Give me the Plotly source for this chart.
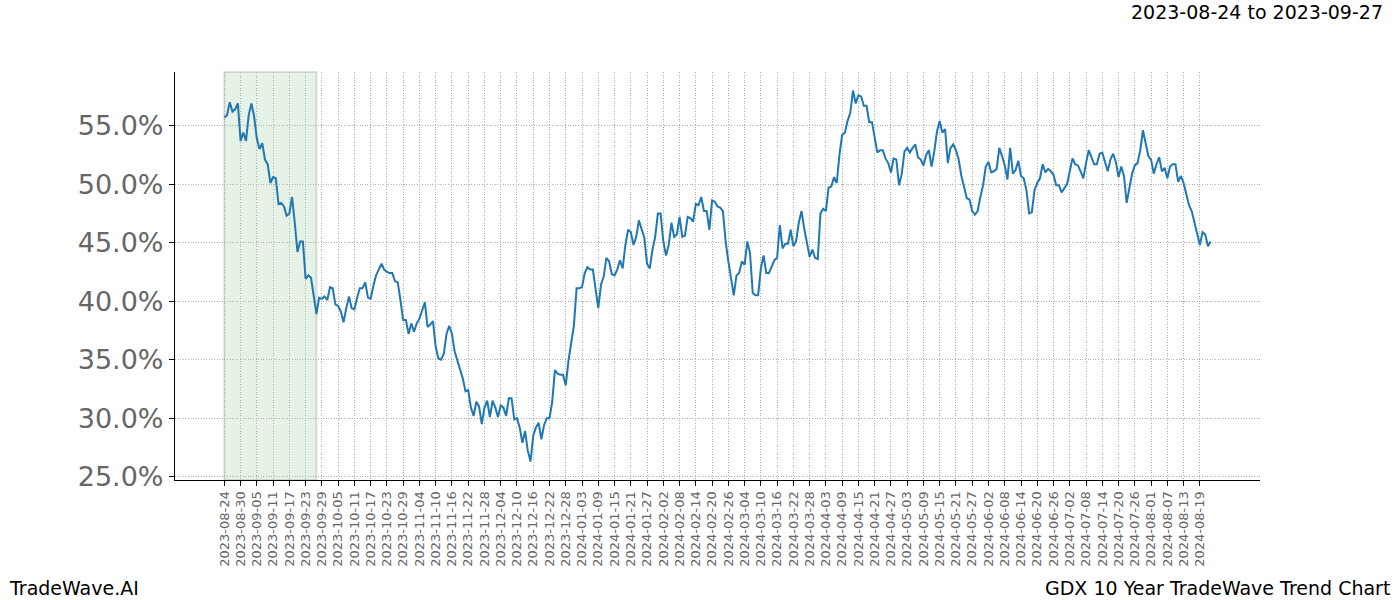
import plotly.graph_objects as go

# Daily trend values (%), index 0 = 2023-08-24
values = [
    55.7, 55.9, 57.0, 56.2, 56.4, 56.9, 53.7, 54.4, 53.7, 55.9,
    56.9, 55.8, 53.9, 53.0, 53.5, 52.1, 51.7, 50.1, 50.6, 50.5,
    48.3, 48.4, 48.1, 47.3, 47.5, 48.9, 46.7, 44.2, 45.1, 45.1,
    41.9, 42.2, 42.0, 40.4, 38.9, 40.3, 40.2, 40.4, 40.1, 41.2,
    41.1, 39.7, 39.6, 39.1, 38.2, 39.4, 40.4, 39.4, 39.3, 40.3,
    41.1, 41.1, 41.6, 40.3, 40.2, 41.3, 42.2, 42.7, 43.2, 42.7,
    42.5, 42.4, 42.4, 41.7, 41.6, 40.1, 38.4, 38.4, 37.2, 38.1,
    37.4, 38.1, 38.5, 39.2, 39.9, 37.8, 38.0, 38.3, 36.1, 35.1,
    35.0, 35.5, 37.2, 37.9, 37.2, 35.7, 35.0, 34.2, 33.4, 32.3,
    32.4, 30.9, 30.2, 31.4, 31.0, 29.5, 30.9, 31.5, 30.1, 31.5,
    30.9, 30.1, 31.1, 30.9, 30.2, 31.7, 31.7, 29.9, 30.0, 29.2,
    27.9, 28.9, 27.2, 26.3, 28.5, 29.2, 29.6, 28.2, 29.4, 30.0,
    30.0, 31.4, 34.1, 33.8, 33.7, 33.7, 32.8, 34.9, 36.4, 37.9,
    41.1, 41.1, 41.2, 42.4, 42.9, 42.7, 42.7, 40.9, 39.4, 41.4,
    42.1, 43.7, 43.4, 42.3, 42.2, 42.7, 43.5, 42.8, 44.8, 46.1,
    45.9, 44.8, 45.5, 46.9, 46.2, 45.4, 43.2, 42.8, 44.4, 45.5,
    47.5, 47.5, 45.1, 43.9, 44.8, 46.7, 45.5, 45.7, 47.2, 45.5,
    45.6, 47.2, 47.1, 46.8, 48.3, 48.2, 48.9, 47.7, 47.7, 46.1,
    48.6, 48.5, 48.1, 48.0, 47.7, 45.1, 43.4, 41.9, 40.5, 42.2,
    42.4, 43.4, 43.1, 45.1, 44.1, 40.7, 40.5, 40.5, 42.8, 43.9,
    42.4, 42.4, 42.9, 43.5, 43.7, 46.5, 44.5, 44.9, 44.9, 46.1,
    44.7, 45.1, 46.7, 47.7, 46.2, 44.9, 43.8, 44.4, 43.7, 43.6,
    47.5, 47.9, 47.7, 49.7, 49.8, 50.6, 50.1, 52.5, 54.2, 54.4,
    55.4, 56.1, 58.0, 56.9, 57.6, 57.5, 56.7, 56.7, 55.3, 55.3,
    54.1, 52.7, 52.9, 52.9, 52.2, 51.8, 51.0, 52.2, 52.1, 49.9,
    50.9, 52.8, 53.1, 52.7, 53.1, 53.4, 52.3, 52.1, 51.6, 52.5,
    52.9, 51.5, 52.8, 54.5, 55.4, 54.4, 54.7, 51.8, 53.1, 53.4,
    52.9, 52.1, 50.7, 49.7, 48.8, 48.7, 47.7, 47.4, 47.7, 48.9,
    49.9, 51.5, 51.9, 51.0, 51.1, 51.3, 53.1, 52.4, 51.6, 50.4,
    53.1, 50.9, 51.2, 52.0, 50.7, 50.5, 49.5, 47.5, 47.6, 49.5,
    50.1, 50.5, 51.7, 51.0, 51.3, 51.1, 50.8, 49.9, 49.9, 49.3,
    49.6, 50.0, 51.1, 52.2, 51.7, 51.6, 51.1, 50.5, 51.8, 52.9,
    52.3, 51.7, 51.7, 52.6, 52.7, 51.9, 51.1, 52.1, 52.6, 51.9,
    50.6, 51.5, 50.7, 48.4, 49.7, 50.9, 51.6, 51.8, 52.9, 54.6,
    53.5, 52.4, 52.1, 50.9, 51.7, 52.3, 51.1, 51.4, 50.5, 51.5,
    51.7, 51.7, 50.2, 50.7, 50.1, 49.2, 48.2, 47.7, 46.8, 45.9,
    44.8, 45.9, 45.7, 44.7, 45.1,
]

tick_labels = [
    "2023-08-24", "2023-08-30", "2023-09-05", "2023-09-11", "2023-09-17",
    "2023-09-23", "2023-09-29", "2023-10-05", "2023-10-11", "2023-10-17",
    "2023-10-23", "2023-10-29", "2023-11-04", "2023-11-10", "2023-11-16",
    "2023-11-22", "2023-11-28", "2023-12-04", "2023-12-10", "2023-12-16",
    "2023-12-22", "2023-12-28", "2024-01-03", "2024-01-09", "2024-01-15",
    "2024-01-21", "2024-01-27", "2024-02-02", "2024-02-08", "2024-02-14",
    "2024-02-20", "2024-02-26", "2024-03-04", "2024-03-10", "2024-03-16",
    "2024-03-22", "2024-03-28", "2024-04-03", "2024-04-09", "2024-04-15",
    "2024-04-21", "2024-04-27", "2024-05-03", "2024-05-09", "2024-05-15",
    "2024-05-21", "2024-05-27", "2024-06-02", "2024-06-08", "2024-06-14",
    "2024-06-20", "2024-06-26", "2024-07-02", "2024-07-08", "2024-07-14",
    "2024-07-20", "2024-07-26", "2024-08-01", "2024-08-07", "2024-08-13",
    "2024-08-19",
]
tick_step = 6
y_ticks = [25, 30, 35, 40, 45, 50, 55]
highlight_start, highlight_end = 0, 34  # 2023-08-24 .. 2023-09-27

x = list(range(len(values)))
tickvals = [i * tick_step for i in range(len(tick_labels))]

fig = go.Figure()
fig.add_trace(go.Scatter(x=x, y=values, mode="lines",
                         line=dict(color="#1f77b4", width=2), showlegend=False))

fig.add_shape(type="rect", xref="x", yref="paper", x0=highlight_start, x1=highlight_end,
              y0=0, y1=1, layer="below", fillcolor="rgba(0,128,0,0.10)",
              line=dict(color="rgba(120,140,120,0.25)", width=2))

span = len(values) - 1
ymin, ymax = min(values), max(values)
ypad = (ymax - ymin) * 0.05

grid = dict(showgrid=True, gridcolor="#b0b0b0", griddash="1px,1.6px", gridwidth=0.8)

fig.update_layout(
    width=1400, height=600,
    margin=dict(l=175, r=140, t=72, b=120),
    paper_bgcolor="white", plot_bgcolor="white",
    font=dict(family="DejaVu Sans"),
    xaxis=dict(range=[-span * 0.05, span * 1.05], tickmode="array", tickvals=tickvals,
               ticktext=tick_labels, tickangle=-90, tickfont=dict(size=13, color="#666666"),
               showline=True, linecolor="black", linewidth=1.2, mirror=False,
               ticks="outside", ticklen=5, tickcolor="black", zeroline=False, **grid),
    yaxis=dict(range=[ymin - ypad, ymax + ypad], tickmode="array", tickvals=y_ticks,
               ticktext=[f"{v:.1f}%" for v in y_ticks], tickfont=dict(size=27, color="#666666"),
               showline=True, linecolor="black", linewidth=1.2, mirror=False,
               ticks="outside", ticklen=5, tickcolor="black", zeroline=False, **grid),
    annotations=[
        dict(text="2023-08-24 to 2023-09-27", xref="paper", yref="paper", x=1, y=1,
             xanchor="right", yanchor="middle", showarrow=False,
             font=dict(size=19, color="black"), xshift=125, yshift=60),
    ],
)
fig.add_annotation(text="TradeWave.AI", xref="paper", yref="paper", x=0, y=0,
                   xanchor="left", yanchor="middle", showarrow=False,
                   font=dict(size=19, color="black"), xshift=-168, yshift=-108)
fig.add_annotation(text="GDX 10 Year TradeWave Trend Chart", xref="paper", yref="paper", x=1, y=0,
                   xanchor="right", yanchor="middle", showarrow=False,
                   font=dict(size=19, color="black"), xshift=132, yshift=-108)

fig.write_html("out.html")
